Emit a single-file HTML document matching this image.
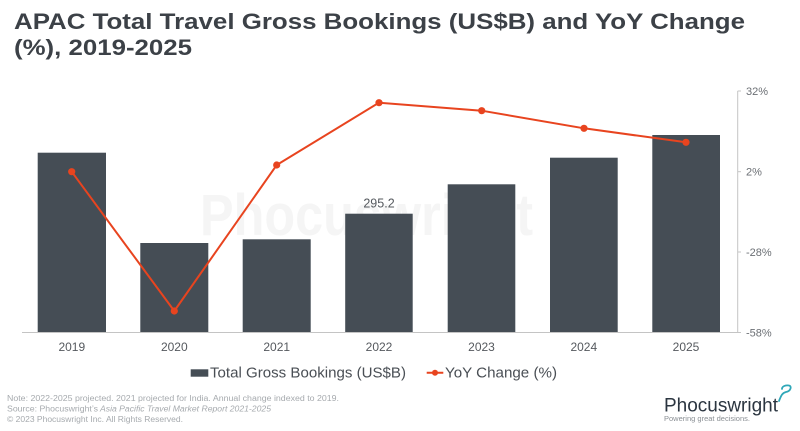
<!DOCTYPE html>
<html><head><meta charset="utf-8"><style>
html,body{margin:0;padding:0;background:#fff;width:800px;height:431px;overflow:hidden}
svg{display:block}
text{font-family:"Liberation Sans",sans-serif}
</style></head><body>
<svg width="800" height="431" viewBox="0 0 800 431" xmlns="http://www.w3.org/2000/svg">
<rect width="800" height="431" fill="#fff"/>
<!-- title -->
<text x="14" y="29" font-size="22" font-weight="bold" fill="#3c4147" textLength="731" lengthAdjust="spacingAndGlyphs">APAC Total Travel Gross Bookings (US$B) and YoY Change</text>
<text x="14" y="55" font-size="22" font-weight="bold" fill="#3c4147" textLength="178" lengthAdjust="spacingAndGlyphs">(%), 2019-2025</text>
<!-- watermark -->
<text x="200" y="235" font-size="58" font-weight="bold" fill="#f5f5f5" textLength="333" lengthAdjust="spacingAndGlyphs">Phocuswright</text>
<!-- bars -->
<g fill="#454d55">
<rect x="37.7" y="152.7" width="68.3" height="179.8"/>
<rect x="140.3" y="243" width="68" height="89.5"/>
<rect x="242.7" y="239.3" width="68" height="93.2"/>
<rect x="345.2" y="213.7" width="67.5" height="118.8"/>
<rect x="447.7" y="184.3" width="67.6" height="148.2"/>
<rect x="550" y="157.7" width="67.7" height="174.8"/>
<rect x="652.3" y="135" width="67.7" height="197.5"/>
</g>
<!-- baseline & right axis -->
<line x1="22" y1="332.5" x2="738" y2="332.5" stroke="#c4c4c4" stroke-width="1"/>
<line x1="737.7" y1="91" x2="737.7" y2="332.5" stroke="#c4c4c4" stroke-width="1"/>
<g stroke="#c4c4c4" stroke-width="1">
<line x1="737.7" y1="91" x2="741" y2="91"/>
<line x1="737.7" y1="171.7" x2="741" y2="171.7"/>
<line x1="737.7" y1="252" x2="741" y2="252"/>
<line x1="737.7" y1="332.5" x2="741" y2="332.5"/>
</g>
<g font-size="11" fill="#6b6f74">
<text x="746" y="95">32%</text>
<text x="746" y="175.5">2%</text>
<text x="746" y="256">-28%</text>
<text x="746" y="336.5">-58%</text>
</g>
<!-- line -->
<polyline points="71.7,171.7 174.3,311 276.7,165 379,102.7 481.7,110.7 584,128.3 686,142.3" fill="none" stroke="#e8441f" stroke-width="2"/>
<g fill="#e8441f">
<circle cx="71.7" cy="171.7" r="3.6"/>
<circle cx="174.3" cy="311" r="3.6"/>
<circle cx="276.7" cy="165" r="3.6"/>
<circle cx="379" cy="102.7" r="3.6"/>
<circle cx="481.7" cy="110.7" r="3.6"/>
<circle cx="584" cy="128.3" r="3.6"/>
<circle cx="686" cy="142.3" r="3.6"/>
</g>
<text x="379" y="207.7" font-size="12.5" fill="#55595e" text-anchor="middle">295.2</text>
<!-- x labels -->
<g font-size="12" fill="#55595e" text-anchor="middle">
<text x="71.8" y="351">2019</text>
<text x="174.3" y="351">2020</text>
<text x="276.7" y="351">2021</text>
<text x="379" y="351">2022</text>
<text x="481.5" y="351">2023</text>
<text x="583.8" y="351">2024</text>
<text x="686" y="351">2025</text>
</g>
<!-- legend -->
<rect x="190.7" y="369.3" width="17.6" height="7.4" fill="#454d55"/>
<text x="210" y="377.7" font-size="14.5" fill="#4a4f55" textLength="196" lengthAdjust="spacingAndGlyphs">Total Gross Bookings (US$B)</text>
<line x1="426.7" y1="372.7" x2="443.3" y2="372.7" stroke="#e8441f" stroke-width="2"/>
<circle cx="435" cy="372.7" r="3" fill="#e8441f"/>
<text x="445" y="377.7" font-size="14.5" fill="#4a4f55" textLength="112" lengthAdjust="spacingAndGlyphs">YoY Change (%)</text>
<!-- footnotes -->
<g font-size="8" fill="#a6aaae">
<text x="7" y="401" textLength="332" lengthAdjust="spacingAndGlyphs">Note: 2022-2025 projected.  2021 projected for India. Annual change indexed to 2019.</text>
<text x="7" y="411.5" textLength="91" lengthAdjust="spacingAndGlyphs">Source: Phocuswright’s</text>
<text x="100" y="411.5" font-style="italic" textLength="171" lengthAdjust="spacingAndGlyphs">Asia Pacific Travel Market Report 2021-2025</text>
<text x="7" y="422" textLength="176" lengthAdjust="spacingAndGlyphs">© 2023 Phocuswright Inc. All Rights Reserved.</text>
</g>
<!-- logo -->
<text x="664" y="411.5" font-size="19.5" fill="#2b3540" textLength="114" lengthAdjust="spacingAndGlyphs">Phocuswright</text>
<path d="M779,401 C781,396 782,393 786,392 C791,391 792,386 789,385.5 C786,385 782,386 782,389" fill="none" stroke="#2fa7b8" stroke-width="1.8" stroke-linecap="round"/>
<text x="664" y="421" font-size="7.5" fill="#8a8f94" textLength="86" lengthAdjust="spacingAndGlyphs">Powering great decisions.</text>
</svg>
</body></html>
